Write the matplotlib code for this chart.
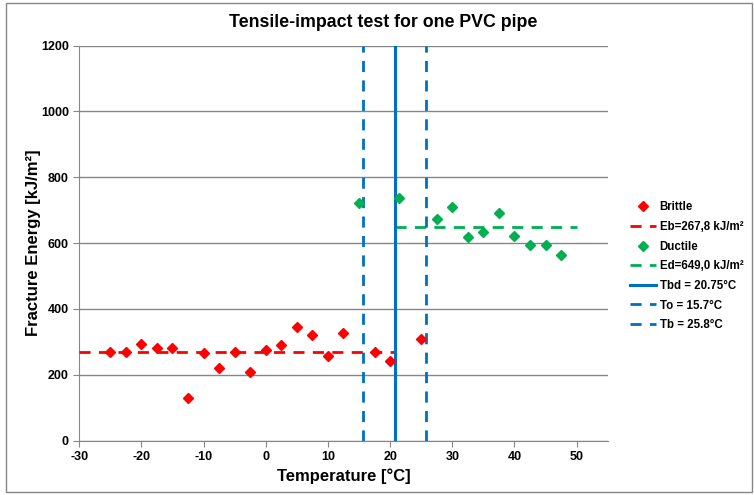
import matplotlib.pyplot as plt
from matplotlib.patches import Rectangle

plt.rcParams['font.family'] = ['Liberation Sans', 'DejaVu Sans']
plt.rcParams['font.weight'] = 'bold'
plt.rcParams['axes.unicode_minus'] = False

# brittle results
brittle_t = [-25, -22.5, -20, -17.5, -15, -12.5, -10, -7.5, -5, -2.5,
             0, 2.5, 5, 7.5, 10, 12.5, 17.5, 20, 25]
brittle_e = [270, 270, 294, 281, 282, 130, 265, 220, 268, 207,
             275, 289, 345, 320, 256, 328, 268, 241, 309]

# ductile results
ductile_t = [15, 21.5, 27.5, 30, 32.5, 35, 37.5, 40, 42.5, 45, 47.5]
ductile_e = [722, 736, 672, 710, 617, 633, 692, 620, 595, 594, 563]

Eb = 267.8
Ed = 649.0
Tbd = 20.75
To = 15.7
Tb = 25.8

red = '#FF0000'
green = '#00B050'
blue = '#0070C0'

fig = plt.figure(figsize=(7.54, 4.95), dpi=100)
ax = fig.add_axes([0.105, 0.110, 0.701, 0.798])

ax.plot(brittle_t, brittle_e, 'D', color=red, markersize=4.7, label='Brittle', zorder=4)
ax.plot([-30, Tbd], [Eb, Eb], '--', color=red, lw=2, dashes=(4, 3),
        label='Eb=267,8 kJ/m²', zorder=3)
ax.plot(ductile_t, ductile_e, 'D', color=green, markersize=4.7, label='Ductile', zorder=4)
ax.plot([Tbd, 50], [Ed, Ed], '--', color=green, lw=2, dashes=(4, 3),
        label='Ed=649,0 kJ/m²', zorder=3)
ax.plot([Tbd, Tbd], [0, 1200], '-', color=blue, lw=2.2, label='Tbd = 20.75°C', zorder=3)
ax.plot([To, To], [0, 1200], '--', color=blue, lw=2, dashes=(4, 3),
        label='To = 15.7°C', zorder=3)
ax.plot([Tb, Tb], [0, 1200], '--', color=blue, lw=2, dashes=(4, 3),
        label='Tb = 25.8°C', zorder=3)

ax.set_xlim(-30, 55)
ax.set_ylim(0, 1200)
ax.set_xticks(range(-30, 51, 10))
ax.set_yticks(range(0, 1201, 200))
ax.yaxis.grid(True, color='#868686', lw=1)
ax.set_axisbelow(True)
for s in ['top', 'right']:
    ax.spines[s].set_visible(False)
for s in ['left', 'bottom']:
    ax.spines[s].set_color('#868686')
ax.tick_params(colors='#868686', labelcolor='black', labelsize=9, length=4, direction='out')

ax.set_xlabel('Temperature [°C]', fontsize=12, fontweight='bold', labelpad=4)
ax.set_ylabel('Fracture Energy [kJ/m²]', fontsize=12, fontweight='bold', labelpad=0)
fig.text(0.508, 0.955, 'Tensile-impact test for one PVC pipe', ha='center', va='center',
         fontsize=12.8, fontweight='bold')

fig.legend(loc='upper left', bbox_to_anchor=(0.835, 0.593), frameon=False,
           fontsize=8.3, handlelength=2.3, handletextpad=0.3, labelspacing=0.66,
           borderpad=0, borderaxespad=0)

fig.patches.append(Rectangle((0.008, 0.006), 0.99, 0.988, transform=fig.transFigure,
                             fill=False, edgecolor='#868686', lw=1))

fig.savefig('out.png', dpi=100)
